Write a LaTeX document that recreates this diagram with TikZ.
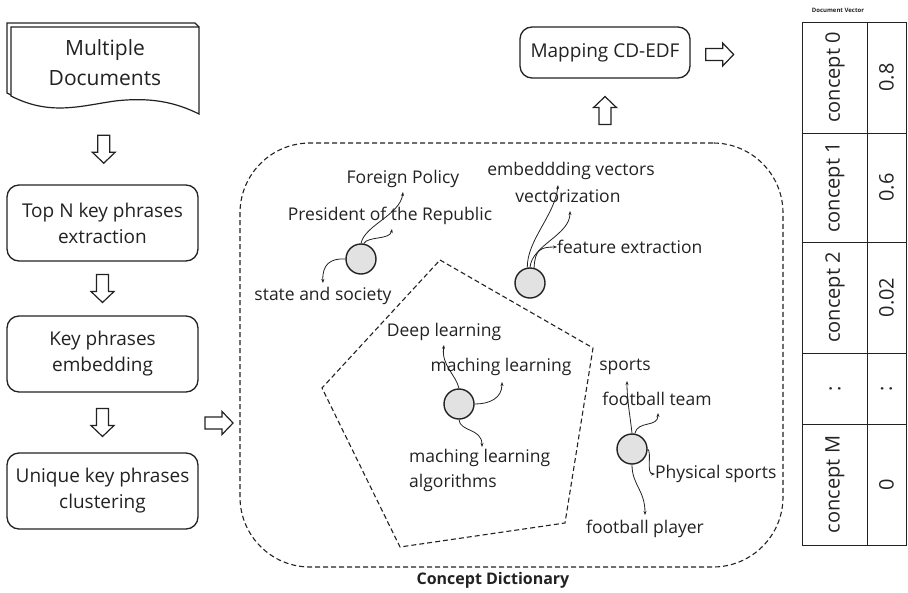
\documentclass[tikz,border=0pt]{standalone}
\usepackage{fontspec}
\setmainfont{Open Sans}
\usetikzlibrary{arrows.meta,calc}
\definecolor{ink}{HTML}{222222}
\definecolor{dot}{HTML}{E2E2E2}
\begin{document}
\begin{tikzpicture}[x=1pt,y=-1pt,
  every node/.style={text=ink},
  lbl/.style={font=\fontsize{17.5}{21}\selectfont, inner sep=0pt},
  procbox/.style={draw=ink, line width=1.3pt, rounded corners=12pt, align=center,
    minimum width=191pt, minimum height=76pt, inner sep=0pt,
    font=\fontsize{19}{26}\selectfont},
  blk/.style={draw=ink, line width=1.2pt, fill=white, line join=miter},
  conn/.style={draw=ink, line width=0.8pt, -{Stealth[length=4pt,width=3pt]}},
  dict/.style={draw=ink, line width=1.1pt, dash pattern=on 5pt off 3pt},
  concept/.style={circle, draw=ink, line width=1.4pt, fill=dot, minimum size=30pt, inner sep=0pt},
  cellt/.style={rotate=90, font=\fontsize{20}{24}\selectfont, inner sep=0pt},
  pics/blockarrow/.style={code={
    \draw[blk] (-6,-14) -- (6,-14) -- (6,3) -- (11.5,3) -- (0,14) -- (-11.5,3) -- (-6,3) -- cycle;}}
]
\useasboundingbox (0,0) rectangle (908,592);

% Multiple documents
\draw[draw=ink, line width=1.2pt, fill=white] (11,95) -- (7,93) -- (7,23) -- (195,23) -- (199,27);
\draw[draw=ink, line width=1.2pt, fill=white] (11,27) -- (199,27) -- (199,114)
  .. controls (175,102) and (150,97) .. (115,101)
  .. controls (80,106) and (50,116) .. (11,96) -- cycle;
\node[align=center, font=\fontsize{21}{30}\selectfont, inner sep=0pt] (docs) at (105,63) {Multiple\\Documents};
\coordinate (docsb) at (105,114);

% process boxes
\node[procbox] (top) at (102.5,223) {Top N key phrases\\extraction};
\node[procbox] (emb) at (102.5,354) {Key phrases\\embedding};
\node[procbox] (clu) at (102.5,491) {Unique key phrases\\clustering};

\path ($(docsb)!.5!(top.north)$) pic {blockarrow};
\path ($(top.south)!.5!(emb.north)$) pic {blockarrow};
\path ($(emb.south)!.5!(clu.north)$) pic {blockarrow};

% concept dictionary
\node[dict, rounded corners=70pt, minimum width=543pt, minimum height=424pt, inner sep=0pt] (cd) at (511.5,355) {};
\node[font=\bfseries\fontsize{16}{20}\selectfont, inner sep=0pt] (cdl) at (493,580) {Concept Dictionary};
\path ($(clu.east)!.5!(cd.west)$) pic[rotate=90] {blockarrow};

% pentagon
\draw[dict] (440,260) -- (593,348) -- (565,523) -- (400,547) -- (322,388) -- cycle;

% mapping box
\node[procbox, minimum width=170pt, minimum height=51pt] (map) at (605,52.5) {Mapping CD-EDF};
\path ($(map.south)!.5!(map.south |- cd.north)$) pic[rotate=180] {blockarrow};
\path ($(map.east)+(29,2)$) pic[rotate=90] {blockarrow};

% concept circles
\node[concept] (c1) at (361,259) {};
\node[concept] (c2) at (530,283) {};
\node[concept] (c3) at (459,404) {};
\node[concept] (c4) at (632,449) {};

% labels
\node[lbl] (fp) at (403,179) {Foreign Policy};
\node[lbl] (pr) at (390,216) {President of the Republic};
\node[lbl] (ss) at (323,296) {state and society};
\node[lbl] (ev) at (571,171) {embeddding vectors};
\node[lbl] (vz) at (568,196) {vectorization};
\node[lbl, anchor=west] (fe) at (557,247) {feature extraction};
\node[lbl] (dl) at (444,332) {Deep learning};
\node[lbl] (ml) at (501,367) {maching learning};
\node[lbl, anchor=north west, align=left, font=\fontsize{17.5}{25}\selectfont] (mla) at (409,449) {maching learning\\algorithms};
\node[lbl] (sp) at (625,367) {sports};
\node[lbl] (ft) at (657,399) {football team};
\node[lbl, anchor=west] (ps) at (655,474) {Physical sports};
\node[lbl] (fpl) at (645,529) {football player};

% connectors
\draw[conn] (c1.north) .. controls (365,225) and (400,215) .. (403,192);
\draw[conn] (c1.80) .. controls (368,236) and (390,240) .. (392,229);
\draw[conn] (c1.180) .. controls (330,258) and (322,265) .. (323,283);

\draw[conn] (c2.100) .. controls (527,240) and (555,215) .. (558,185);
\draw[conn] (c2.north) .. controls (532,245) and (570,235) .. (570,211);
\draw[conn] (c2.75) .. controls (535,250) and (540,247) .. (fe.west);

\draw[conn] (c3.north) .. controls (456,375) and (441,365) .. (444,345);
\draw[conn] (c3.east) .. controls (490,404) and (502,398) .. (502,382);
\draw[conn] (c3.south) .. controls (460,432) and (482,428) .. (482,447);

\draw[conn] (c4.north) .. controls (630,415) and (627,400) .. (627,381);
\draw[conn] (c4.80) .. controls (638,420) and (658,428) .. (658,413);
\draw[conn] (c4.east) .. controls (652,452) and (646,474) .. (ps.west);
\draw[conn] (c4.south) .. controls (632,485) and (645,490) .. (645,515);

% document vector table
\node[font=\bfseries\fontsize{6}{7}\selectfont, inner sep=0pt] (dvl) at (838,10) {Document Vector};
\draw[draw=ink, line width=0.9pt] (802,22) rectangle (906,545);
\draw[draw=ink, line width=0.9pt] (867,22) -- (867,545);
\foreach \yy in {133,242,353,424} \draw[draw=ink, line width=0.9pt] (802,\yy) -- (906,\yy);
\node[cellt] (k0) at (835,77.5) {concept 0};
\node[cellt] (k1) at (835,187.5) {concept 1};
\node[cellt] (k2) at (835,297.5) {concept 2};
\node[cellt] (kd) at (835,388.5) {:};
\node[cellt] (km) at (835,484.5) {concept M};
\node[cellt] (v0) at (886.5,77.5) {0.8};
\node[cellt] (v1) at (886.5,187.5) {0.6};
\node[cellt] (v2) at (886.5,297.5) {0.02};
\node[cellt] (vd) at (886.5,388.5) {:};
\node[cellt] (vm) at (886.5,484.5) {0};
\end{tikzpicture}
\end{document}
